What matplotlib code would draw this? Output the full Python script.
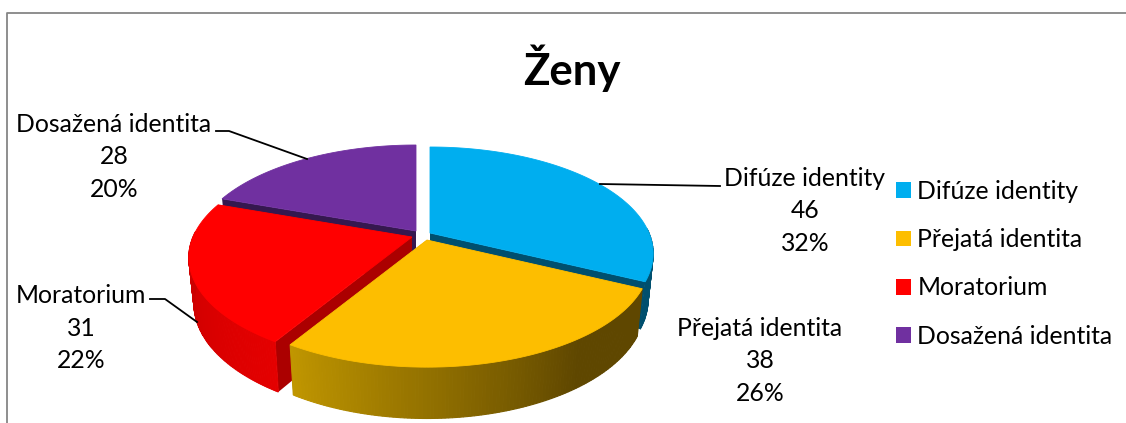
import numpy as np
import matplotlib
matplotlib.use('Agg')
import matplotlib.pyplot as plt
from matplotlib.colors import to_rgb
from matplotlib.patches import Patch

plt.rcParams['font.family'] = ['Lato', 'DejaVu Sans']

title = 'Ženy'
categories = ['Difúze identity', 'Přejatá identita', 'Moratorium', 'Dosažená identita']
values = [46, 38, 31, 28]
percent_labels = ['32%', '26%', '22%', '20%']

# colours per slice: top face, radial face, outer wall (gradient along the angle)
top_colors = ['#00AEEF', '#FDBE00', '#FF0000', '#7030A0']
side_colors = ['#004F6E', '#8A6800', '#AB0000', '#35184F']
wall_colors = [('#005E80', '#004F6E'), ('#5F4700', '#C09600'), ('#E40000', '#C00000'), ('#35184F', '#35184F')]
wall_hold = [0, 0.3, 0, 0]

# slice apex in pixels (exploded slices), label centres in pixels
apex = [(430, 233), (427, 240), (412, 237), (416, 231)]
label_pos = [(805, 211), (760, 361), (81, 328), (114, 157)]
leaders = [
    [(600, 184), (720, 186)],
    [],
    [(150, 299), (165, 299), (197, 322)],
    [(216, 131), (229, 131), (307, 159)],
]

# fake perspective of the 3d pie
RX = 219
RY = 102.6
K = 0.193
DEPTH = 45
BOTTOM_X = 0.977
BOTTOM_Y = 1.05


def rim(t):
    # t in degrees, clockwise from the top
    u = np.sin(np.radians(t))
    v = np.cos(np.radians(t))
    s = 1 / (1 + K * v)
    return RX * u * s, -RY * v * s


def mix(c1, c2, f):
    a = np.array(to_rgb(c1))
    b = np.array(to_rgb(c2))
    return tuple(a + (b - a) * f)


fig = plt.figure(figsize=(11.26, 4.23), dpi=100)
ax = fig.add_axes([0, 0, 1, 1])
ax.set_xlim(0, 1126)
ax.set_ylim(423, 0)
ax.axis('off')

# chart border, only top and left are visible
ax.plot([6.5, 6.5, 1126], [423, 13.5, 13.5], color='#868686', lw=1.3)

edges = np.cumsum([0] + values) / sum(values) * 360

for i in [3, 0, 2, 1]:
    t0, t1 = edges[i], edges[i + 1]
    ax0, ay0 = apex[i]

    # radial faces
    for t in (t0, t1):
        x, y = rim(t)
        ax.fill([ax0, ax0 + x, ax0 + x * BOTTOM_X, ax0],
                [ay0, ay0 + y, ay0 + y * BOTTOM_Y + DEPTH, ay0 + DEPTH],
                color=side_colors[i], lw=0)

    # outer wall as thin strips, the far side is hidden anyway
    ts = np.linspace(t0, t1, 120)
    for j in range(len(ts) - 1):
        if np.cos(np.radians(ts[j])) > 0.05:
            continue
        x1, y1 = rim(ts[j])
        x2, y2 = rim(ts[j + 1])
        f = j / (len(ts) - 2)
        f = max(0, (f - wall_hold[i]) / (1 - wall_hold[i]))
        col = mix(wall_colors[i][0], wall_colors[i][1], f)
        ax.fill([ax0 + x1, ax0 + x2, ax0 + x2 * BOTTOM_X, ax0 + x1 * BOTTOM_X],
                [ay0 + y1, ay0 + y2, ay0 + y2 * BOTTOM_Y + DEPTH, ay0 + y1 * BOTTOM_Y + DEPTH],
                color=col, lw=0.8)

    # top face
    ts = np.linspace(t0, t1, 200)
    xs, ys = rim(ts)
    ax.fill(np.r_[ax0, ax0 + xs], np.r_[ay0, ay0 + ys], color=top_colors[i], lw=0.6)

# leader lines
for pts in leaders:
    if pts:
        ax.plot([p[0] for p in pts], [p[1] for p in pts], color='black', lw=1.3)

# data labels
for i, name in enumerate(categories):
    ax.text(label_pos[i][0], label_pos[i][1], f'{name}\n{values[i]}\n{percent_labels[i]}',
            ha='center', va='center', fontsize=17.8, linespacing=1.5, color='black')

ax.text(572, 68, title, ha='center', va='center', fontsize=31.5, fontweight='bold', color='black')

handles = [Patch(color=c, lw=0) for c in top_colors]
ax.legend(handles, categories, loc='upper left', bbox_to_anchor=(896 / 1126, 1 - 180 / 423),
          frameon=False, fontsize=17.8, handlelength=0.61, handleheight=0.61,
          handletextpad=0.25, labelspacing=1.02, borderpad=0, borderaxespad=0)

plt.savefig('out.png', dpi=100)
